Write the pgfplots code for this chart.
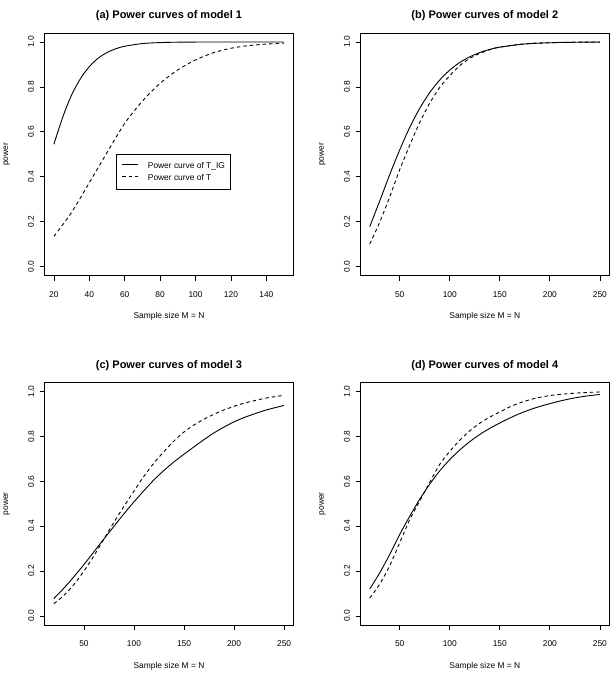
\documentclass[border=0pt]{standalone}
\usepackage{pgfplots}
\pgfplotsset{compat=1.18}
\usepackage{fontspec}
\setmainfont{Liberation Sans}
\newcommand{\tickfont}{\fontsize{8.4}{10}\selectfont}
\pgfplotsset{
  pc/.style={
    scale only axis, width=248.6pt, height=242.7pt,
    ymin=-0.04, ymax=1.04,
    ytick={0,0.2,0.4,0.6,0.8,1},
    yticklabels={0.0,0.2,0.4,0.6,0.8,1.0},
    tick align=outside, major tick length=5pt,
    xtick pos=bottom, ytick pos=left,
    axis line style={line width=0.8pt},
    every tick/.style={line width=0.8pt, black},
    tick label style={font=\tickfont},
    xticklabel style={anchor=base, yshift=-16.6pt},
    yticklabel style={rotate=90, anchor=base, yshift=5.7pt},
    xlabel={Sample size M = N}, ylabel={power},
    label style={font=\tickfont},
    xlabel style={at={(axis description cs:0.5,-0.169)}, anchor=center},
    ylabel style={at={(axis description cs:-0.153,0.5)}, anchor=center},
    title style={at={(axis description cs:0.5,1)}, anchor=center, yshift=11pt, font=\fontsize{11}{13}\selectfont\bfseries},
  },
  pa/.style={pc, xmin=14.8, xmax=155.2, xtick={20,40,60,80,100,120,140}, xticklabels={20,40,60,80,100,120,140}},
  pb/.style={pc, xmin=10.8, xmax=259.2, xtick={50,100,150,200,250}, xticklabels={50,100,150,200,250}},
  sol/.style={black, line width=0.9pt, smooth, tension=0.5},
  das/.style={black, line width=0.9pt, smooth, tension=0.5, dash pattern=on 3.5pt off 3pt},
}
\begin{document}
\begin{tikzpicture}[x=1pt,y=1pt]
\path (0,0) rectangle (615,677);
% (a)
\begin{axis}[pa, at={(44.7pt,401.3pt)}, anchor=south west,
  title={(a) Power curves of model 1},
  legend style={at={(0.286,0.5)}, anchor=north west, draw=black, line width=0.8pt,
    font=\tickfont, inner xsep=5.8pt, inner ysep=7.2pt, row sep=3.5pt,
    nodes={inner sep=0pt, text height=6.5pt, text depth=2pt}, column sep=9pt},
  legend cell align=left,
  legend image code/.code={\draw[#1, line width=0.9pt] (0pt,2.2pt) -- (16pt,2.2pt);},
]
\addplot[sol] coordinates {(20,0.545) (25,0.666) (30,0.764) (35,0.837) (40,0.890) (45,0.928) (50,0.953) (55,0.970) (60,0.981) (70,0.993) (80,0.9974) (90,0.9991) (100,0.9997) (110,0.9999) (120,1) (130,1) (140,1) (150,1)};
\addlegendentry{Power curve of T\_IG}
\addplot[das] coordinates {(20,0.135) (30,0.242) (40,0.374) (50,0.508) (60,0.638) (70,0.737) (80,0.816) (90,0.876) (100,0.920) (110,0.952) (120,0.972) (130,0.984) (140,0.9906) (150,0.9946)};
\addlegendentry{Power curve of T}
\end{axis}
% (b)
\begin{axis}[pb, at={(360.5pt,401.3pt)}, anchor=south west,
  title={(b) Power curves of model 2}]
\addplot[sol] coordinates {(20,0.178) (30,0.2925) (40,0.410) (50,0.520) (60,0.620) (70,0.705) (80,0.775) (90,0.831) (100,0.875) (110,0.909) (120,0.934) (130,0.953) (140,0.967) (150,0.977) (175,0.991) (200,0.9965) (225,0.9988) (250,0.9996)};
\addplot[das] coordinates {(20,0.101) (30,0.198) (40,0.311) (50,0.432) (60,0.541) (70,0.642) (80,0.728) (90,0.798) (100,0.850) (110,0.895) (120,0.927) (130,0.949) (140,0.9655) (150,0.977) (175,0.992) (200,0.997) (225,0.9993) (250,0.9998)};
\end{axis}
% (c)
\begin{axis}[pb, at={(44.7pt,52pt)}, anchor=south west,
  title={(c) Power curves of model 3}]
\addplot[sol] coordinates {(20,0.078) (30,0.124) (40,0.175) (50,0.229) (60,0.286) (70,0.343) (80,0.399) (90,0.455) (100,0.508) (110,0.558) (120,0.606) (130,0.648) (140,0.686) (150,0.720) (160,0.753) (170,0.785) (180,0.815) (190,0.841) (200,0.864) (210,0.883) (220,0.899) (230,0.914) (240,0.926) (250,0.937)};
\addplot[das] coordinates {(20,0.055) (30,0.0918) (40,0.140) (50,0.200) (60,0.268) (70,0.343) (80,0.417) (90,0.488) (100,0.556) (110,0.622) (120,0.681) (130,0.732) (140,0.779) (150,0.819) (160,0.850) (170,0.876) (180,0.898) (190,0.917) (200,0.933) (210,0.947) (220,0.958) (230,0.968) (240,0.9756) (250,0.9817)};
\end{axis}
% (d)
\begin{axis}[pb, at={(360.5pt,52pt)}, anchor=south west,
  title={(d) Power curves of model 4}]
\addplot[sol] coordinates {(20,0.120) (30,0.192) (40,0.274) (50,0.363) (60,0.444) (70,0.520) (80,0.587) (90,0.646) (100,0.696) (110,0.739) (120,0.776) (130,0.808) (140,0.835) (150,0.859) (160,0.881) (170,0.901) (180,0.918) (190,0.9326) (200,0.945) (210,0.9564) (220,0.9664) (230,0.9744) (240,0.9808) (250,0.986)};
\addplot[das] coordinates {(20,0.080) (30,0.142) (40,0.224) (50,0.326) (60,0.429) (70,0.512) (80,0.595) (90,0.675) (100,0.733) (110,0.782) (120,0.824) (130,0.858) (140,0.885) (150,0.908) (160,0.9306) (170,0.9484) (180,0.9625) (190,0.9732) (200,0.981) (210,0.986) (220,0.990) (230,0.993) (240,0.9953) (250,0.997)};
\end{axis}
\end{tikzpicture}
\end{document}
